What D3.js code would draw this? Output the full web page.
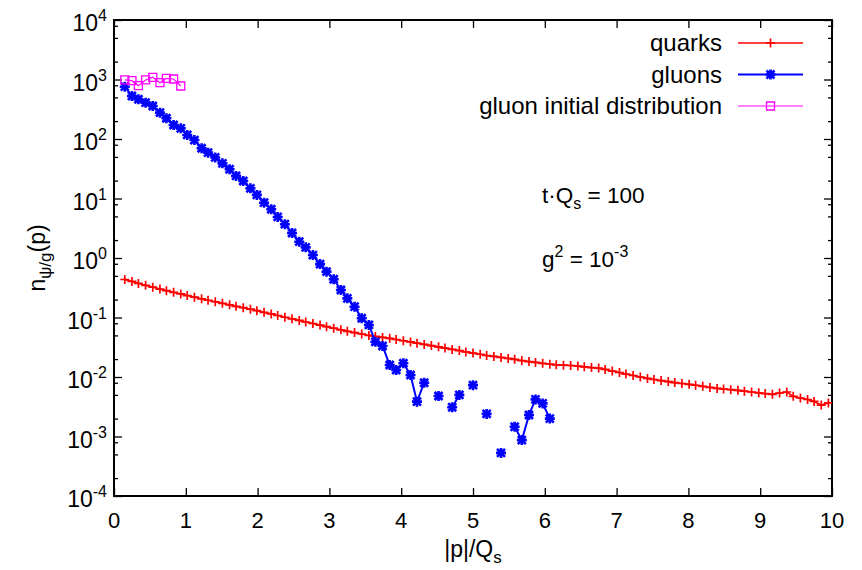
<!DOCTYPE html>
<html>
<head>
<meta charset="utf-8">
<script src="https://cdn.jsdelivr.net/npm/d3@7"></script>
<style>
    body { margin: 0; background: #fff; }
    svg text { font-family: "Liberation Sans", Arial, Helvetica, sans-serif; fill: #000; }
</style>
</head>
<body>
<div id="chart"></div>
<script>
// momentum grid |p|/Qs
const pGrid = [0.15, 0.25, 0.34, 0.44, 0.54, 0.64, 0.73, 0.83, 0.93, 1.02,
    1.12, 1.22, 1.31, 1.41, 1.51, 1.61, 1.70, 1.80, 1.90, 1.99,
    2.09, 2.19, 2.28, 2.38, 2.48, 2.58, 2.67, 2.77, 2.87, 2.96,
    3.06, 3.16, 3.25, 3.35, 3.45, 3.55, 3.64, 3.74, 3.84, 3.93,
    4.03, 4.13, 4.22, 4.32, 4.42, 4.52, 4.61, 4.71, 4.81, 4.90,
    5.00, 5.10, 5.19, 5.29, 5.39, 5.49, 5.58, 5.68, 5.78, 5.87,
    5.97, 6.07, 6.16, 6.26, 6.36, 6.46, 6.55, 6.65, 6.75, 6.84,
    6.94, 7.04, 7.13, 7.23, 7.33, 7.43, 7.52, 7.62, 7.72, 7.81,
    7.91, 8.01, 8.10, 8.20, 8.30, 8.40, 8.49, 8.59, 8.69, 8.78,
    8.88, 8.98, 9.07, 9.17, 9.27, 9.37, 9.46, 9.56, 9.66, 9.75,
    9.85, 9.95];

const quarks = [0.435, 0.404, 0.374, 0.348, 0.323, 0.301, 0.282, 0.265, 0.249, 0.234,
    0.220, 0.206, 0.195, 0.184, 0.173, 0.163, 0.154, 0.146, 0.138, 0.130,
    0.122, 0.115, 0.108, 0.101, 0.0951, 0.0894, 0.0840, 0.0793, 0.0745, 0.0700,
    0.0661, 0.0621, 0.0586, 0.0557, 0.0528, 0.0500, 0.0480, 0.0463, 0.0446, 0.0427,
    0.0407, 0.0389, 0.0370, 0.0353, 0.0337, 0.0321, 0.0306, 0.0291, 0.0278, 0.0264,
    0.0252, 0.0241, 0.0230, 0.0222, 0.0213, 0.0205, 0.0198, 0.0189, 0.0182, 0.0176,
    0.0170, 0.0164, 0.0160, 0.0158, 0.0156, 0.0153, 0.0148, 0.0144, 0.0141, 0.0134,
    0.0126, 0.0119, 0.0112, 0.0106, 0.0100, 0.00947, 0.00908, 0.00870, 0.00837, 0.00805,
    0.00778, 0.00752, 0.00726, 0.00698, 0.00668, 0.00643, 0.00627, 0.00612, 0.00596, 0.00577,
    0.00560, 0.00542, 0.00526, 0.00512, 0.00538, 0.00560, 0.00474, 0.00444, 0.00419, 0.00388,
    0.00338, 0.00366];

// null = no value (line broken there)
const gluons = [757, 528, 465, 408, 359, 277, 223, 172, 151, 117,
    96, 70, 59, 49, 39, 31, 24, 19.7, 14.8, 11.5,
    8.5, 6.6, 4.9, 3.7, 2.63, 1.88, 1.51, 1.12, 0.79, 0.59,
    0.44, 0.29, 0.21, 0.152, 0.097, 0.075, 0.039, 0.0332, 0.0159, 0.0131,
    0.0170, 0.0108, 0.00385, 0.0080, null, 0.0048, null, 0.0031, 0.0050, null,
    0.0073, null, 0.0024, null, 0.00053, null, 0.00146, 0.00087, 0.0023, 0.0042,
    0.0036, 0.0020];

const gluonInit = [982, 955, 787, 982, 1089, 884, 1047, 1019, 778];

const xTicks = [0, 1, 2, 3, 4, 5, 6, 7, 8, 9, 10];
const yExponents = [4, 3, 2, 1, 0, -1, -2, -3, -4];
const yMinorMult = [2, 5, 8];
const legendLabels = ["quarks", "gluons", "gluon initial distribution"];

let margin = { top: 20, right: 30, bottom: 74, left: 114 };
let width = 862 - margin.left - margin.right;
let height = 570 - margin.top - margin.bottom;

let svg = d3.select('#chart').append('svg')
    .attr('width', 862)
    .attr('height', 570);

let g = svg.append('g')
    .attr('transform', 'translate(' + margin.left + ',' + margin.top + ')');

let xScale = d3.scaleLinear().domain([0, 10]).range([0, width]);
let yScale = d3.scaleLog().domain([1e-4, 1e4]).range([height, 0]);

let minorVals = [];
yExponents.slice(1).forEach(function (e) {
    yMinorMult.forEach(function (m) { minorVals.push(m * Math.pow(10, e)); });
});
let majorVals = yExponents.map(function (e) { return Math.pow(10, e); });

// ticks (inward, mirrored)
function tickLines(axisFn, vals, size) {
    return axisFn.tickValues(vals).tickSize(size).tickFormat('');
}
let axes = [
    { a: d3.axisBottom(xScale), t: 'translate(0,' + height + ')', v: xTicks, s: -8 },
    { a: d3.axisTop(xScale), t: 'translate(0,0)', v: xTicks, s: -8 },
    { a: d3.axisLeft(yScale), t: 'translate(0,0)', v: majorVals, s: -8 },
    { a: d3.axisLeft(yScale), t: 'translate(0,0)', v: minorVals, s: -4 },
    { a: d3.axisRight(yScale), t: 'translate(' + width + ',0)', v: majorVals, s: -8 },
    { a: d3.axisRight(yScale), t: 'translate(' + width + ',0)', v: minorVals, s: -4 }
];
axes.forEach(function (ax) {
    let gg = g.append('g').attr('transform', ax.t).call(tickLines(ax.a, ax.v, ax.s));
    gg.select('.domain').remove();
    gg.selectAll('line').attr('stroke', '#000').attr('stroke-width', 1.3);
});

g.append('rect')
    .attr('width', width).attr('height', height)
    .attr('fill', 'none').attr('stroke', '#000').attr('stroke-width', 2);

// tick labels
g.selectAll('.xlab').data(xTicks).enter().append('text')
    .attr('x', function (d) { return xScale(d); })
    .attr('y', height + 32)
    .attr('text-anchor', 'middle')
    .style('font-size', '22px')
    .text(function (d) { return d; });

let yl = g.selectAll('.ylab').data(yExponents).enter().append('text')
    .attr('x', -7)
    .attr('y', function (d) { return yScale(Math.pow(10, d)) + 11; })
    .attr('text-anchor', 'end')
    .style('font-size', '23px');
yl.append('tspan').text('10');
yl.append('tspan').attr('dy', -10).style('font-size', '16px').text(function (d) { return d; });

// axis titles
let xt = svg.append('text')
    .attr('x', margin.left + width / 2).attr('y', 557)
    .attr('text-anchor', 'middle').style('font-size', '23px');
xt.append('tspan').text('|p|/Q');
xt.append('tspan').attr('dy', 6).style('font-size', '17px').text('s');

let yt = svg.append('text')
    .attr('transform', 'translate(45,' + (margin.top + height / 2) + ') rotate(-90)')
    .attr('text-anchor', 'middle').style('font-size', '23px');
yt.append('tspan').text('n');
yt.append('tspan').attr('dy', 6).style('font-size', '17px').text('ψ/g');
yt.append('tspan').attr('dy', -6).text('(p)');

// annotations
let a1 = svg.append('text').attr('x', 542).attr('y', 203).style('font-size', '22.5px');
a1.append('tspan').text('t·Q');
a1.append('tspan').attr('dy', 6).style('font-size', '16px').text('s');
a1.append('tspan').attr('dy', -6).text(' = 100');

let a2 = svg.append('text').attr('x', 542).attr('y', 267).style('font-size', '22.5px');
a2.append('tspan').text('g');
a2.append('tspan').attr('dy', -10).style('font-size', '16px').text('2');
a2.append('tspan').attr('dy', 10).text(' = 10');
a2.append('tspan').attr('dy', -10).style('font-size', '16px').text('-3');

// series
let plot = g.append('g');
let clip = svg.append('clipPath').attr('id', 'clip');
clip.append('rect').attr('width', width).attr('height', height);
plot.attr('clip-path', 'url(#clip)');

const markPlus = 'M-4.5,0H4.5M0,-4.5V4.5';
const markStar = 'M-5,0H5M0,-5V5M-4,-4L4,4M-4,4L4,-4';
const markSquare = 'M-4,-4H4V4H-4Z';

let series = [
    { vals: quarks, color: '#ff0000', lw: 1.6, mark: markPlus, mw: 1.7, fill: 'none' },
    { vals: gluons, color: '#0000ff', lw: 2, mark: markStar, mw: 2.6, fill: 'none' },
    { vals: gluonInit, color: '#ff00ff', lw: 1.2, mark: markSquare, mw: 1.3, fill: 'none' }
];

let line = d3.line()
    .defined(function (d) { return d[1] != null; })
    .x(function (d) { return xScale(d[0]); })
    .y(function (d) { return yScale(d[1]); });

series.forEach(function (s) {
    let pts = s.vals.map(function (v, i) { return [pGrid[i], v]; });
    plot.append('path')
        .datum(pts)
        .attr('d', line)
        .attr('fill', 'none')
        .attr('stroke', s.color)
        .attr('stroke-width', s.lw);
    plot.selectAll(null)
        .data(pts.filter(function (d) { return d[1] != null; }))
        .enter().append('path')
        .attr('d', s.mark)
        .attr('transform', function (d) { return 'translate(' + xScale(d[0]) + ',' + yScale(d[1]) + ')'; })
        .attr('fill', s.fill)
        .attr('stroke', s.color)
        .attr('stroke-width', s.mw);
});

// legend
let legend = svg.append('g');
series.forEach(function (s, i) {
    let y = 43 + i * 31.5;
    legend.append('text')
        .attr('x', 722).attr('y', y + 8)
        .attr('text-anchor', 'end')
        .style('font-size', '24px')
        .text(legendLabels[i]);
    legend.append('line')
        .attr('x1', 738).attr('x2', 803).attr('y1', y).attr('y2', y)
        .attr('stroke', s.color).attr('stroke-width', s.lw);
    legend.append('path')
        .attr('d', s.mark)
        .attr('transform', 'translate(770.5,' + y + ')')
        .attr('fill', 'none').attr('stroke', s.color).attr('stroke-width', s.mw);
});
</script>
</body>
</html>
